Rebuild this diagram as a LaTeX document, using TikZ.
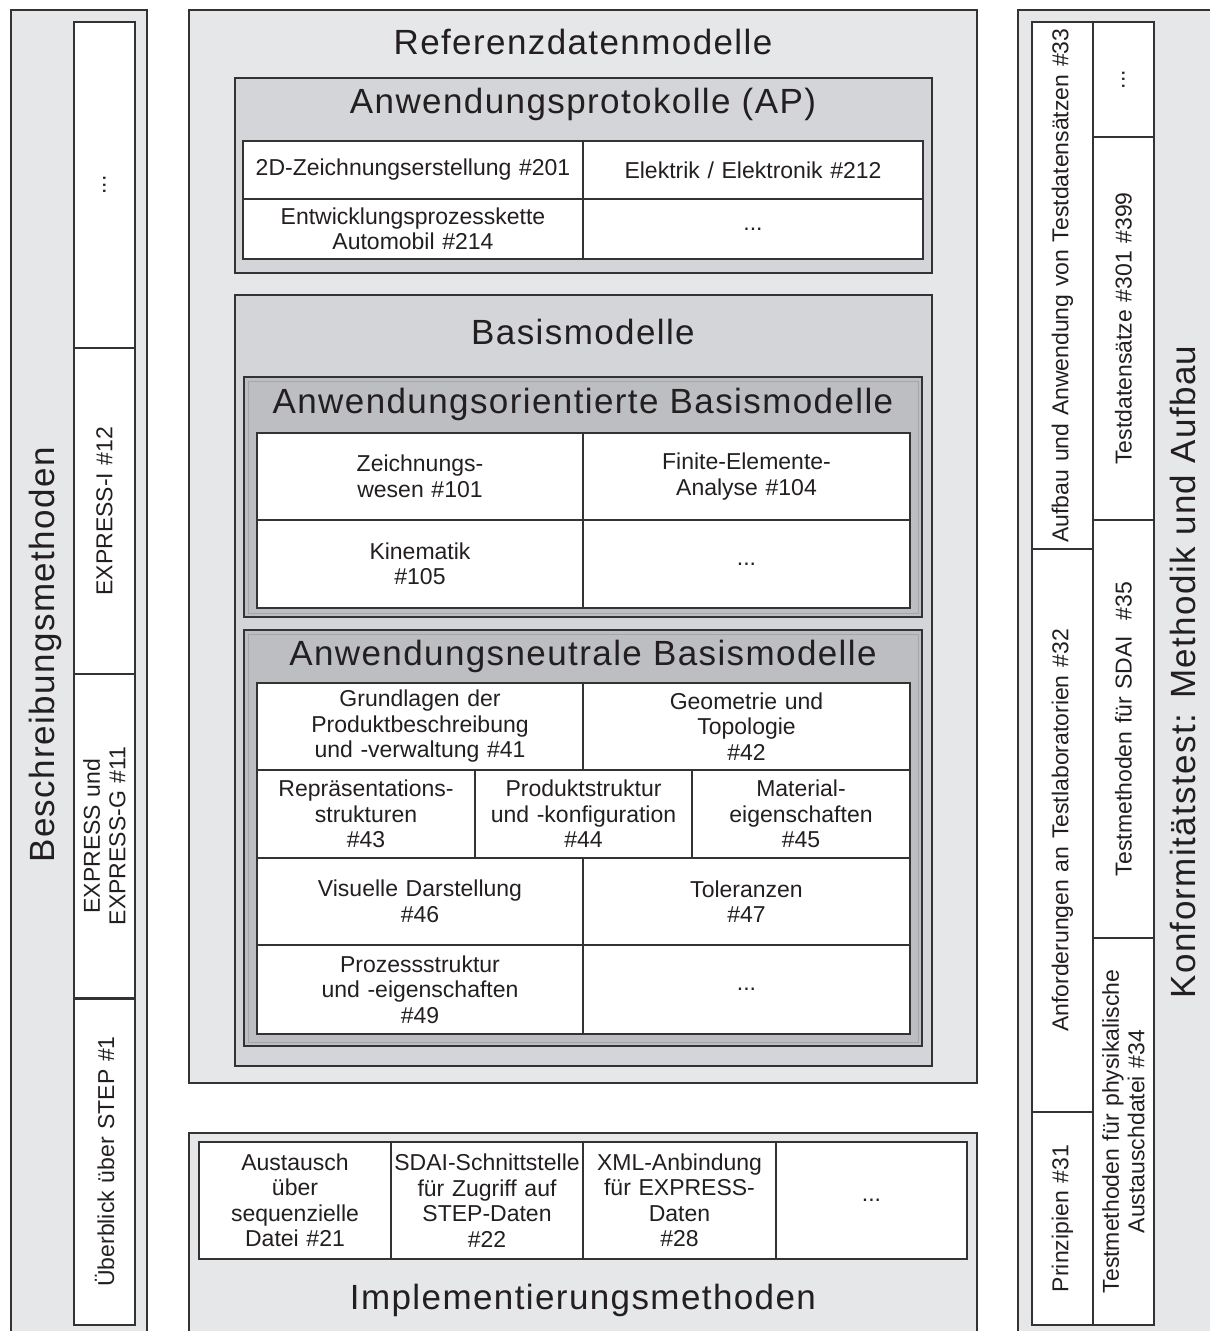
\documentclass[tikz,border=0pt]{standalone}
\usepackage{fontspec}
\setmainfont{Liberation Sans}
\newfontfamily\titlefont[LetterSpace=4]{Liberation Sans}
\newfontfamily\cellfont{Liberation Sans}

\definecolor{panelgray}{HTML}{E6E7E9}
\definecolor{midgray}{HTML}{D4D5D8}
\definecolor{deepgray}{HTML}{BCBEC2}
\definecolor{edge}{HTML}{333333}
\definecolor{bevel}{HTML}{A4A6AA}
\definecolor{ink}{HTML}{231F20}

% horizontal cell: name, x1, y1, x2, y2, text
\newcommand\hcell[6]{%
  \pgfmathsetmacro\cw{#4-#2}\pgfmathsetmacro\ch{#5-#3}\pgfmathsetmacro\tw{#4-#2-2}%
  \node[cellbox, minimum width=\cw pt, minimum height=\ch pt, text width=\tw pt]
    (#1) at ({(#2+#4)/2},{(#3+#5)/2}) {#6};}
% vertical cell (text reads bottom to top)
\newcommand\vcell[6]{%
  \pgfmathsetmacro\cw{#4-#2}\pgfmathsetmacro\ch{#5-#3}\pgfmathsetmacro\tw{#5-#3-10}%
  \node[cellbox, rotate=90, minimum width=\ch pt, minimum height=\cw pt, text width=\tw pt]
    (#1) at ({(#2+#4)/2},{(#3+#5)/2}) {#6};}

\begin{document}
\begin{tikzpicture}[x=1pt,y=-1pt,
  panel/.style={fill=panelgray, draw=edge, line width=2pt},
  frame2/.style={fill=midgray, draw=edge, line width=1.8pt},
  frame3/.style={fill=deepgray, draw=edge, line width=1.8pt},
  bevelline/.style={draw=bevel, line width=0.6pt},
  cellbox/.style={draw=edge, fill=white, line width=1.2pt, inner sep=0pt, outer sep=0pt,
    align=center, text=ink, font=\cellfont\fontsize{23}{25.5}\selectfont},
  tableedge/.style={draw=edge, line width=2pt},
  title/.style={text=ink, inner sep=0pt, font=\titlefont\fontsize{35}{38}\selectfont}]

\useasboundingbox (0,0) rectangle (1210,1331);
\begin{scope}
\clip (0,0) rectangle (1210,1331);
\fill[white] (0,0) rectangle (1210,1331);

% ---- outer panels
\path[panel] (11,10) rectangle (147,1345);
\path[panel] (189,10) rectangle (977,1083);
\path[panel] (189,1133) rectangle (977,1345);
\path[panel] (1018,10) rectangle (1230,1345);

% ---- nested frames of the reference models
\path[frame2] (235,78) rectangle (932,273);
\path[frame2] (235,295) rectangle (932,1066);
\path[frame3] (244,377) rectangle (922,617);
\path[bevelline] (248,381) rectangle (918,613);
\path[frame3] (244,630) rectangle (922,1046);
\path[bevelline] (248,634) rectangle (918,1042);

% ---- titles
\node[title] (tref) at (583,42) {Referenzdatenmodelle};
\node[title] (tap) at (583,104) {Anwendungsprotokolle (AP)};
\node[title] (tbasis) at (583,332) {Basismodelle};
\node[title] (torient) at (583,404) {Anwendungsorientierte Basismodelle};
\node[title] (tneutral) at (583,656) {Anwendungsneutrale Basismodelle};
\node[title] (timpl) at (583,1300) {Implementierungsmethoden};
\node[title, rotate=90] (tbesch) at (45,655) {Beschreibungsmethoden};
\node[title, rotate=90] (tkonf) at (1183,672) {Konformitätstest: Methodik und Aufbau};

% ---- application protocols
\hcell{ap1}{243}{141}{583}{199}{2D-Zeichnungserstellung \#201}
\hcell{ap2}{583}{141}{923}{199}{Elektrik / Elektronik \#212}
\hcell{ap3}{243}{199}{583}{259}{Entwicklungsprozesskette\\Automobil \#214}
\hcell{ap4}{583}{199}{923}{259}{...}
\draw[tableedge] (ap1.north west) rectangle (ap4.south east);

% ---- application-oriented base models
\hcell{o1}{257}{433}{583}{520}{Zeichnungs-\\wesen \#101}
\hcell{o2}{583}{433}{910}{520}{Finite-Elemente-\\Analyse \#104}
\hcell{o3}{257}{520}{583}{608}{Kinematik\\\#105}
\hcell{o4}{583}{520}{910}{608}{...}
\draw[tableedge] (o1.north west) rectangle (o4.south east);

% ---- application-neutral base models
\hcell{n1}{257}{683}{583}{770}{Grundlagen der\\Produktbeschreibung\\und -verwaltung \#41}
\hcell{n2}{583}{683}{910}{770}{Geometrie und\\Topologie\\\#42}
\hcell{n3}{257}{770}{475}{858}{Repräsentations-\\strukturen\\\#43}
\hcell{n4}{475}{770}{692}{858}{Produktstruktur\\und -konfiguration\\\#44}
\hcell{n5}{692}{770}{910}{858}{Material-\\eigenschaften\\\#45}
\hcell{n6}{257}{858}{583}{945}{Visuelle Darstellung\\\#46}
\hcell{n7}{583}{858}{910}{945}{Toleranzen\\\#47}
\hcell{n8}{257}{945}{583}{1034}{Prozessstruktur\\und -eigenschaften\\\#49}
\hcell{n9}{583}{945}{910}{1034}{...}
\draw[tableedge] (n1.north west) rectangle (n9.south east);

% ---- implementation methods
\hcell{i1}{199}{1142}{391}{1259}{Austausch\\über\\sequenzielle\\Datei \#21}
\hcell{i2}{391}{1142}{583}{1259}{SDAI-Schnittstelle\\für Zugriff auf\\STEP-Daten\\\#22}
\hcell{i3}{583}{1142}{776}{1259}{XML-Anbindung\\für EXPRESS-\\Daten\\\#28}
\hcell{i4}{776}{1142}{967}{1259}{...}
\draw[tableedge] (i1.north west) rectangle (i4.south east);

% ---- description methods
\vcell{l1}{74}{22}{135}{348}{...}
\vcell{l2}{74}{348}{135}{674}{EXPRESS-I \#12}
\vcell{l3}{74}{674}{135}{998}{EXPRESS und\\EXPRESS-G \#11}
\vcell{l4}{74}{998}{135}{1325}{Überblick über STEP \#1}
\draw[tableedge] (74,22) rectangle (135,1325);
% heavier rule below the EXPRESS cell (the rotated node's west side)
\draw[draw=edge, line width=3pt] (l3.south west) -- (l3.north west);

% ---- conformance testing
\vcell{r1}{1032}{22}{1093}{549}{Aufbau und Anwendung von Testdatensätzen \#33}
\vcell{r2}{1032}{549}{1093}{1112}{Anforderungen an Testlaboratorien \#32}
\vcell{r3}{1032}{1112}{1093}{1325}{Prinzipien \#31}
\vcell{r4}{1093}{22}{1154}{137}{...}
\vcell{r5}{1093}{137}{1154}{520}{Testdatensätze \#301 \#399}
\vcell{r6}{1093}{520}{1154}{938}{Testmethoden für SDAI\ \ \#35}
\vcell{r7}{1093}{938}{1154}{1325}{Testmethoden für physikalische\\Austauschdatei \#34}
\draw[tableedge] (1032,22) rectangle (1154,1325);
\end{scope}
\end{tikzpicture}
\end{document}
